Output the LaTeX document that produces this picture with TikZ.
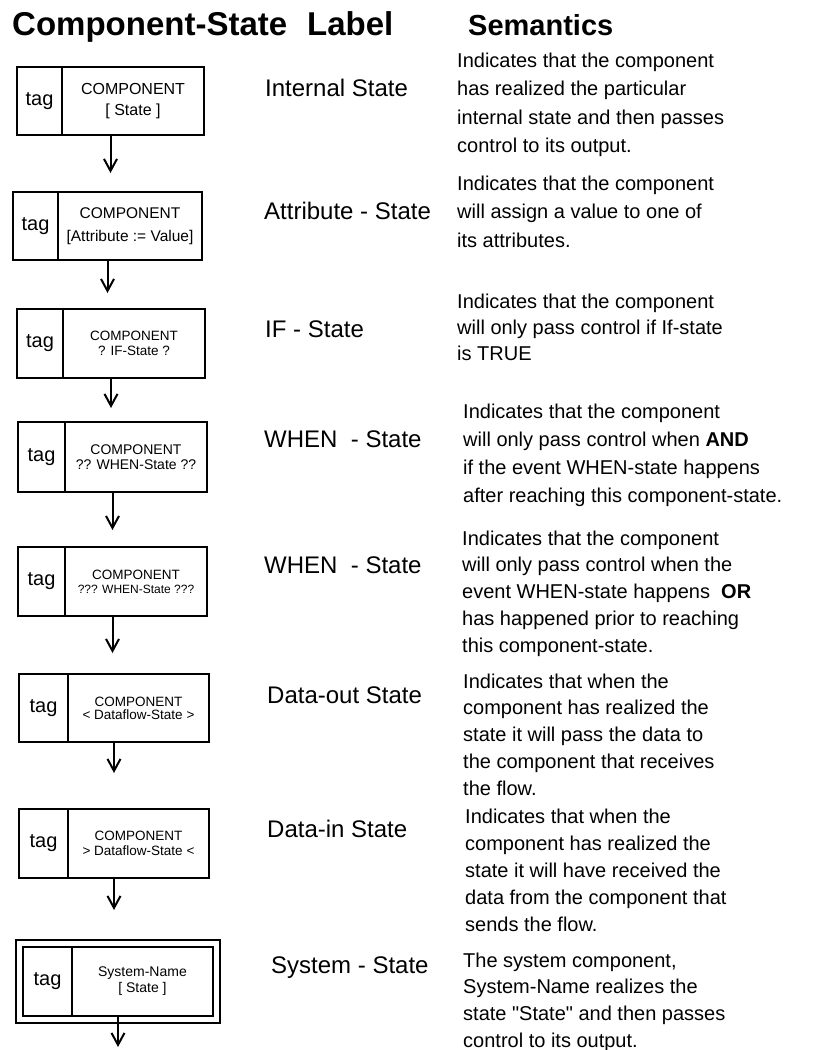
\documentclass[tikz,border=0pt]{standalone}
\usepackage{fontspec}
\setmainfont{Liberation Sans}[Ligatures=TeXOff]
\usetikzlibrary{arrows.meta,fit}

% One component-state box: name, left, top, right, bottom, divider x,
% style of the label, label text
\newcommand{\cstate}[8]{%
  \coordinate (#1-nw) at (#2,#3);
  \coordinate (#1-se) at (#4,#5);
  \node[statebox, fit=(#1-nw)(#1-se)] (#1) {};
  \coordinate (#1-d) at (#6,#3);
  \draw[divider] (#1-d) -- (#1-d |- #1-se);
  \node[tagtext] (#1-tag) at ({(#2+#6)/2},{(#3+#5)/2}) {tag};
  \node[#7] (#1-text) at ({(#6+#4)/2},{(#3+#5)/2}) {#8};
}

\begin{document}
\begin{tikzpicture}[x=1pt, y=-1pt,
  statebox/.style={draw, line width=2.4pt, inner sep=0pt, outer sep=0pt},
  sysframe/.style={draw, line width=2.4pt, inner sep=0pt, outer sep=0pt},
  divider/.style={line width=1.2pt},
  tagtext/.style={font=\fontsize{20}{24}\selectfont, inner sep=0pt},
  comp/.style 2 args={font=\fontsize{#1}{#2}\selectfont, align=center, inner sep=0pt},
  flow/.style={line width=2pt, -{Straight Barb[length=12pt, width=13pt, line width=2pt]}},
  heading/.style={anchor=base west, inner sep=0pt, font=\bfseries\fontsize{#1}{#1}\selectfont},
  kind/.style={anchor=base west, inner sep=0pt, font=\fontsize{24}{28}\selectfont},
  desc/.style={anchor=base west, inner sep=0pt, font=\fontsize{20}{#1}\selectfont},
]
\useasboundingbox[fill=white] (0,0) rectangle (838,1050);

% column headings
\node[heading=33] (h1) at (12,35) {Component-State\hspace{20pt}Label};
\node[heading=29] (h2) at (468,35) {Semantics};

% state boxes
\cstate{b1}{17}{67}{204}{135}{62}{comp={16}{21}}{COMPONENT\\{[} State ]}
\cstate{b2}{13}{192}{202}{260}{58}{comp={15.5}{23}}{COMPONENT\\{[}Attribute := Value]}
\cstate{b3}{17}{309}{205}{378}{63}{comp={13.5}{15}}{COMPONENT\\? IF-State ?}
\cstate{b4}{18}{422}{207}{492}{65}{comp={14}{15}}{COMPONENT\\?? WHEN-State ??}
\cstate{b5}{18}{547}{207}{616}{65}{comp={13.5}{14}}{COMPONENT\\{\fontsize{12}{14}\selectfont ??? WHEN-State ???}}
\cstate{b6}{19}{674}{209}{742}{68}{comp={13.5}{13}}{COMPONENT\\< Dataflow-State >}
\cstate{b7}{19}{809}{209}{878}{68}{comp={13.5}{15}}{COMPONENT\\> Dataflow-State <}
\coordinate (b8o-nw) at (16,940);
\coordinate (b8o-se) at (220,1023);
\node[sysframe, fit=(b8o-nw)(b8o-se)] (b8o) {};
\cstate{b8}{23}{947}{213}{1016}{72}{comp={14}{16}}{System-Name\\{[} State ]}

% control flow
\coordinate (a1) at (110.5,173);
\coordinate (a2) at (107.5,293);
\coordinate (a3) at (111,408);
\coordinate (a4) at (112.5,530);
\coordinate (a5) at (112.5,653);
\coordinate (a6) at (114,773);
\coordinate (a7) at (114,910);
\coordinate (a8) at (118,1047);
\draw[flow] (b1) -- (a1);
\draw[flow] (b2) -- (a2);
\draw[flow] (b3) -- (a3);
\draw[flow] (b4) -- (a4);
\draw[flow] (b5) -- (a5);
\draw[flow] (b6) -- (a6);
\draw[flow] (b7) -- (a7);
\draw[flow] (b8) -- (a8);

% kinds of state
\node[kind] (k1) at (265,96) {Internal State};
\node[kind] (k2) at (264,219) {Attribute - State};
\node[kind] (k3) at (265,337) {IF - State};
\node[kind] (k4) at (264,447) {WHEN\ \ - State};
\node[kind] (k5) at (264,573) {WHEN\ \ - State};
\node[kind] (k6) at (267,703) {Data-out State};
\node[kind] (k7) at (267,837) {Data-in State};
\node[kind] (k8) at (271,973) {System - State};

% semantics
\node[desc=28.5] (s1) at (457,67) {\begin{tabular}[t]{@{}l@{}}
Indicates that the component\\
has realized the particular\\
internal state and then passes\\
control to its output.\end{tabular}};
\node[desc=28.5] (s2) at (457,190) {\begin{tabular}[t]{@{}l@{}}
Indicates that the component\\
will assign a value to one of\\
its attributes.\end{tabular}};
\node[desc=26] (s3) at (457,308) {\begin{tabular}[t]{@{}l@{}}
Indicates that the component\\
will only pass control if If-state\\
is TRUE\end{tabular}};
\node[desc=28.3] (s4) at (463,418) {\begin{tabular}[t]{@{}l@{}}
Indicates that the component\\
will only pass control when \textbf{AND}\\
if the event WHEN-state happens\\
after reaching this component-state.\end{tabular}};
\node[desc=26.8] (s5) at (462,545) {\begin{tabular}[t]{@{}l@{}}
Indicates that the component\\
will only pass control when the\\
event WHEN-state happens \ \textbf{OR}\\
has happened prior to reaching\\
this component-state.\end{tabular}};
\node[desc=26.8] (s6) at (463,688) {\begin{tabular}[t]{@{}l@{}}
Indicates that when the\\
component has realized the\\
state it will pass the data to\\
the component that receives\\
the flow.\end{tabular}};
\node[desc=27.2] (s7) at (465,823) {\begin{tabular}[t]{@{}l@{}}
Indicates that when the\\
component has realized the\\
state it will have received the\\
data from the component that\\
sends the flow.\end{tabular}};
\node[desc=26.7] (s8) at (463,967) {\begin{tabular}[t]{@{}l@{}}
The system component,\\
System-Name realizes the\\
state "State" and then passes\\
control to its output.\end{tabular}};
\end{tikzpicture}
\end{document}
